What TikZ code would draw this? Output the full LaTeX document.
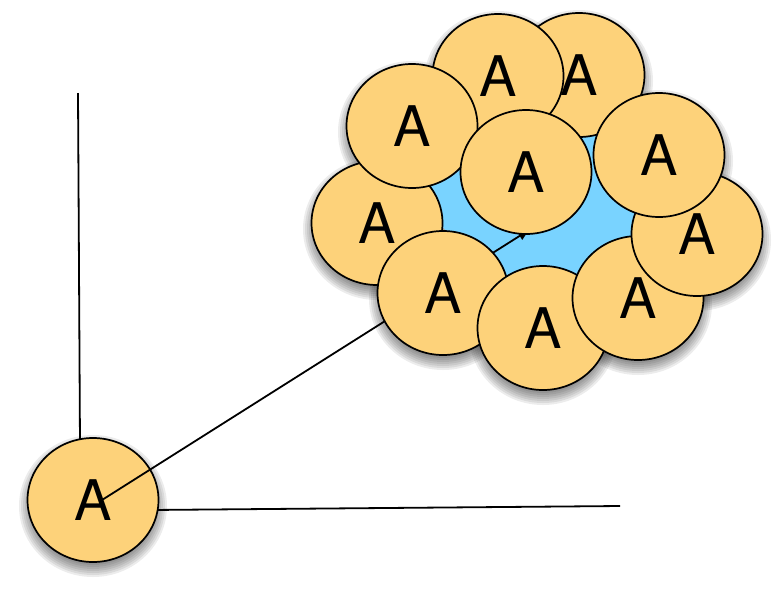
\documentclass[tikz,border=0pt]{standalone}
\usepackage{fontspec}
\setmainfont{TeX Gyre Heros}
\usetikzlibrary{shapes.geometric,arrows.meta}
\definecolor{ballfill}{RGB}{253,210,122}
\definecolor{blobblue}{RGB}{121,211,255}
\begin{document}
\begin{tikzpicture}[x=1pt,y=-1pt,
  ball/.style={ellipse, draw=black, line width=1.7pt, fill=ballfill,
    minimum width=131pt, minimum height=124pt, inner sep=0pt,
    font=\fontsize{56}{60}\selectfont},
  conn/.style={line width=1.8pt, draw=black},
  shadowpart/.style={fill=black, opacity=0.075}]
\useasboundingbox (0,0) rectangle (781,595);
% soft shadows (one layer behind all discs)
\foreach \x/\y in {93/500,377/223,443/293,543/328,638/298,697/234,579/75,659/155,498/76,412/126,526/172}{
  \foreach \i in {0,...,7}{
    \fill[shadowpart] (\x,\y+6) ellipse [x radius={60+\i*2}, y radius={57+\i*2}];
  }
}
% blue blob behind the cluster
\fill[blobblue] plot[smooth cycle, tension=0.6] coordinates {(428,205) (437,178) (470,150) (540,130) (592,128) (625,170) (638,232) (605,268) (545,290) (505,288) (480,258) (455,240)};
% axes
\coordinate (vtop) at (78,93);
\coordinate (vbot) at (80,445);
\coordinate (hstart) at (150,510);
\coordinate (hend) at (620,506);
\draw[conn] (vtop) -- (vbot);
\draw[conn] (hstart) -- (hend);
\node[ball] (b) at (93,500) {A};
\coordinate (astart) at (102,500);
\coordinate (atip) at (529,230);
\draw[conn, -{Triangle[length=11pt,width=9pt]}] (astart) -- (atip);
% cluster, bottom to top
\node[ball] (c6) at (377,223) {A};
\node[ball] (c8) at (443,293) {A};
\node[ball] (c9) at (543,328) {A};
\node[ball] (c10) at (638,298) {A};
\node[ball] (c7) at (697,234) {A};
\node[ball] (c2) at (579,75) {A};
\node[ball] (c5) at (659,155) {A};
\node[ball] (c1) at (498,76) {A};
\node[ball] (c3) at (412,126) {A};
\node[ball] (c4) at (526,172) {A};
\end{tikzpicture}
\end{document}
